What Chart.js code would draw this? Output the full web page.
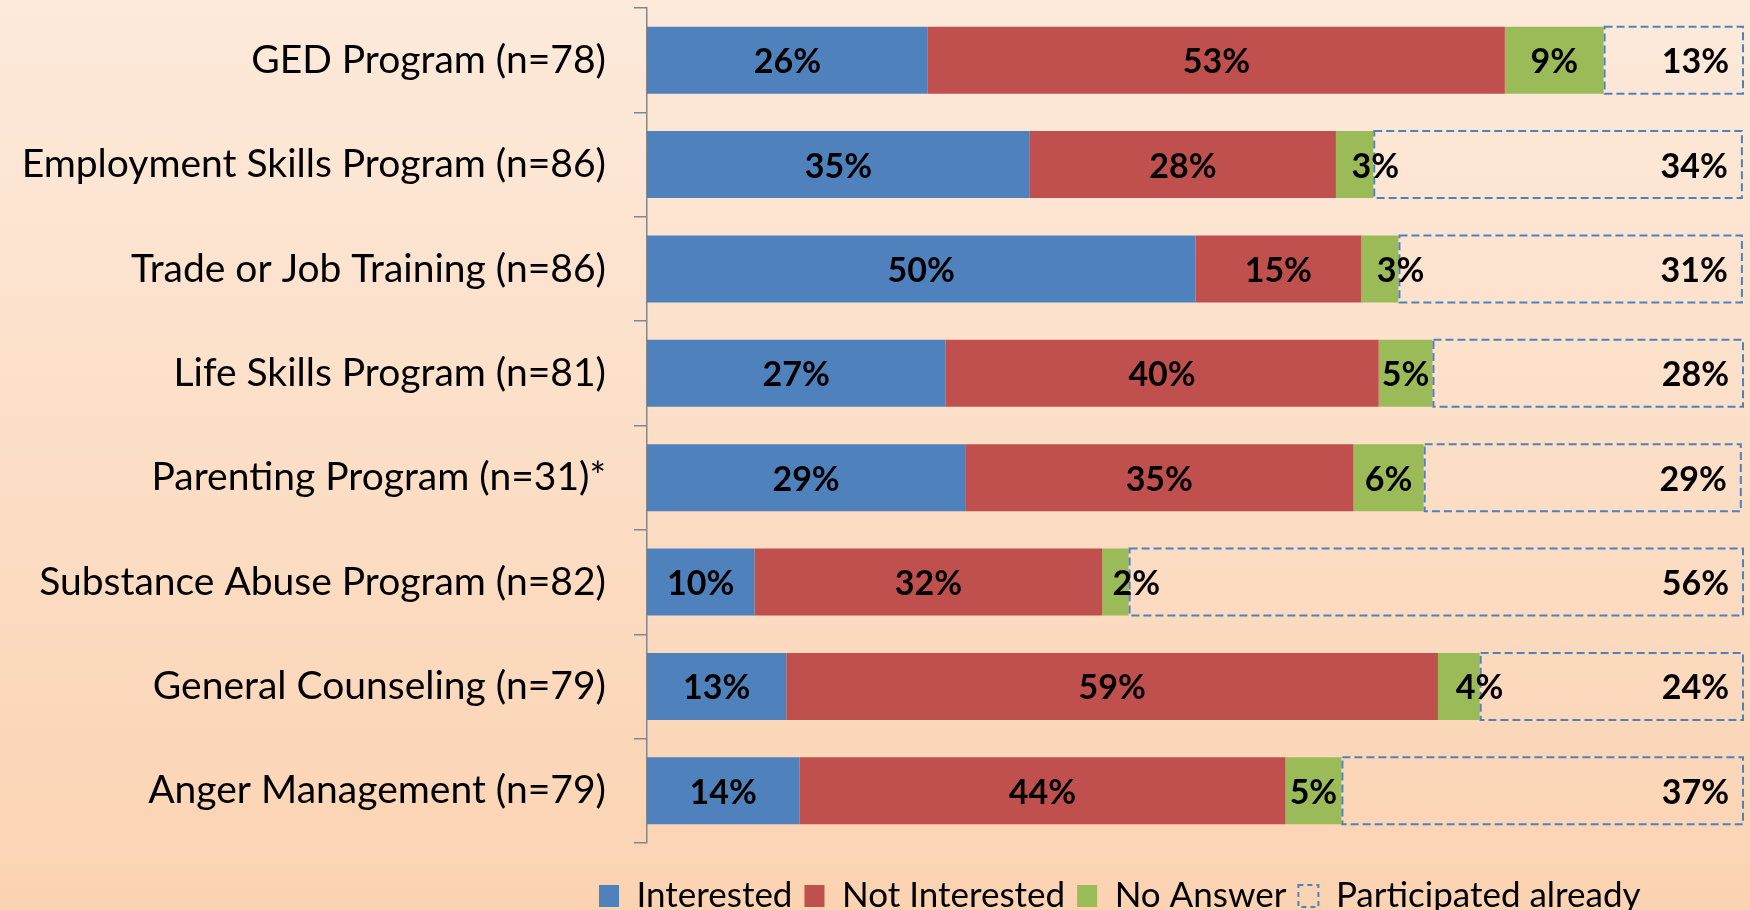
<!DOCTYPE html>
<html>
<head>
<meta charset="utf-8">
<style>
  html, body { margin: 0; padding: 0; background: #FCDFC8; }
  #wrap { width: 1750px; height: 910px; }
  canvas { display: block; }
</style>
<script src="https://cdn.jsdelivr.net/npm/chart.js@4/dist/chart.umd.min.js"></script>
</head>
<body>
<div id="wrap"><canvas id="c" width="1750" height="910"></canvas></div>
<script>
const categories = [
  'GED Program (n=78)',
  'Employment Skills Program (n=86)',
  'Trade or Job Training (n=86)',
  'Life Skills Program (n=81)',
  'Parenting Program (n=31)*',
  'Substance Abuse Program (n=82)',
  'General Counseling (n=79)',
  'Anger Management (n=79)'
];
const seriesNames = ['Interested', 'Not Interested', 'No Answer', 'Participated already'];
const interested    = [25.6, 34.9, 50.0, 27.2, 29.0,  9.8, 12.7, 13.9];
const notInterested = [52.6, 27.9, 15.1, 39.5, 35.4, 31.7, 59.4, 44.3];
const noAnswer      = [ 9.0,  3.4,  3.4,  4.9,  6.4,  2.4,  3.8,  5.1];
const participated  = [12.8, 33.7, 31.4, 28.4, 29.0, 56.1, 24.1, 36.7];

const FONT = 'Lato, "Open Sans", sans-serif';
const BLUE = '#4F81BD', RED = '#C0504D', GREEN = '#9BBB59';
const LEGEND_FONT = 35, LEGEND_PAD = 12;

const bgPlugin = {
  id: 'bg',
  beforeDraw(chart) {
    const ctx = chart.ctx;
    const g = ctx.createLinearGradient(0, 0, 0, chart.height);
    g.addColorStop(0, '#FDEADB');
    g.addColorStop(1, '#FBD3B2');
    ctx.save();
    ctx.fillStyle = g;
    ctx.fillRect(0, 0, chart.width, chart.height);
    ctx.restore();
  }
};

const legendPlace = {
  id: 'legendPlace',
  afterLayout(chart) {
    const lg = chart.legend;
    if (!lg || !lg.lineWidths) return;
    const pad = lg.options.labels.padding;
    const start = (lg.left + pad + lg.right - lg.lineWidths[0]) / 2;
    const dx = 599 - start;
    lg.left += dx; lg.right += dx;
    const h = lg.bottom - lg.top;
    lg.top = 896 - pad - LEGEND_FONT / 2;
    lg.bottom = lg.top + h;
  }
};

const dashPlugin = {
  id: 'dashedBars',
  afterDatasetsDraw(chart) {
    const ctx = chart.ctx;
    const meta = chart.getDatasetMeta(3);
    ctx.save();
    ctx.strokeStyle = BLUE;
    ctx.lineWidth = 2;
    ctx.setLineDash([8, 4]);
    meta.data.forEach(el => {
      const p = el.getProps(['x', 'y', 'base', 'height'], true);
      const left = Math.min(p.x, p.base), right = Math.max(p.x, p.base);
      ctx.strokeRect(left + 1, p.y - p.height / 2, right - left - 2, p.height);
    });
    ctx.restore();
  }
};

const labelPlugin = {
  id: 'barLabels',
  afterDatasetsDraw(chart) {
    const ctx = chart.ctx;
    ctx.save();
    ctx.font = 'bold 34px ' + FONT;
    ctx.fillStyle = '#000';
    ctx.textBaseline = 'middle';
    chart.data.datasets.forEach((ds, di) => {
      const meta = chart.getDatasetMeta(di);
      meta.data.forEach((el, i) => {
        const v = ds.data[i];
        const p = el.getProps(['x', 'y', 'base'], true);
        const txt = Math.round(v) + '%';
        const cx = (p.x + p.base) / 2;
        if (di === 3) {
          ctx.textAlign = 'right';
          ctx.fillText(txt, Math.max(p.x, p.base) - 15, p.y + 2);
        } else if (v < 4.5) {
          ctx.textAlign = 'left';
          ctx.fillText(txt, cx - 3, p.y + 2);
        } else {
          ctx.textAlign = 'center';
          ctx.fillText(txt, cx, p.y + 2);
        }
      });
    });
    ctx.restore();
  }
};

function makeChart() {
  const ctx = document.getElementById('c').getContext('2d');
  new Chart(ctx, {
    type: 'bar',
    data: {
      labels: categories,
      datasets: [
        { label: seriesNames[0], data: interested, backgroundColor: BLUE, borderWidth: 0 },
        { label: seriesNames[1], data: notInterested, backgroundColor: RED, borderWidth: 0 },
        { label: seriesNames[2], data: noAnswer, backgroundColor: GREEN, borderWidth: 0 },
        { label: seriesNames[3], data: participated, backgroundColor: 'rgba(0,0,0,0)', borderWidth: 0 }
      ]
    },
    options: {
      indexAxis: 'y',
      responsive: false,
      animation: false,
      events: [],
      datasets: { bar: { barPercentage: 0.642, categoryPercentage: 1.0 } },
      layout: { padding: { top: 8, right: 6, left: 0, bottom: 10 } },
      scales: {
        x: { stacked: true, min: 0, max: 100, display: false },
        y: {
          stacked: true,
          afterFit(scale) {
            scale.width = 647;
            scale.paddingTop = 0;
            scale.paddingBottom = 0;
          },
          grid: { offset: true, drawOnChartArea: false, drawTicks: true, tickLength: 13, color: '#868686', lineWidth: 1.5 },
          border: { display: true, color: '#868686', width: 1.5 },
          ticks: { autoSkip: false, padding: 28, color: '#000', font: { family: FONT, size: 39 } }
        }
      },
      plugins: {
        tooltip: { enabled: false },
        legend: {
          display: true,
          position: 'bottom',
          align: 'center',
          labels: {
            color: '#000',
            font: { family: FONT, size: LEGEND_FONT },
            boxWidth: 20,
            boxHeight: 22,
            padding: LEGEND_PAD,
            generateLabels(chart) {
              const items = Chart.defaults.plugins.legend.labels.generateLabels(chart);
              items.forEach(it => { it.lineWidth = 0; });
              const last = items[3];
              last.fillStyle = 'rgba(0,0,0,0)';
              last.strokeStyle = BLUE;
              last.lineWidth = 2;
              last.lineDash = [5, 4];
              return items;
            }
          }
        }
      }
    },
    plugins: [bgPlugin, legendPlace, dashPlugin, labelPlugin]
  });
}

Promise.all([
  document.fonts.load('39px Lato'),
  document.fonts.load('bold 34px Lato')
]).then(makeChart, makeChart);
</script>
</body>
</html>
